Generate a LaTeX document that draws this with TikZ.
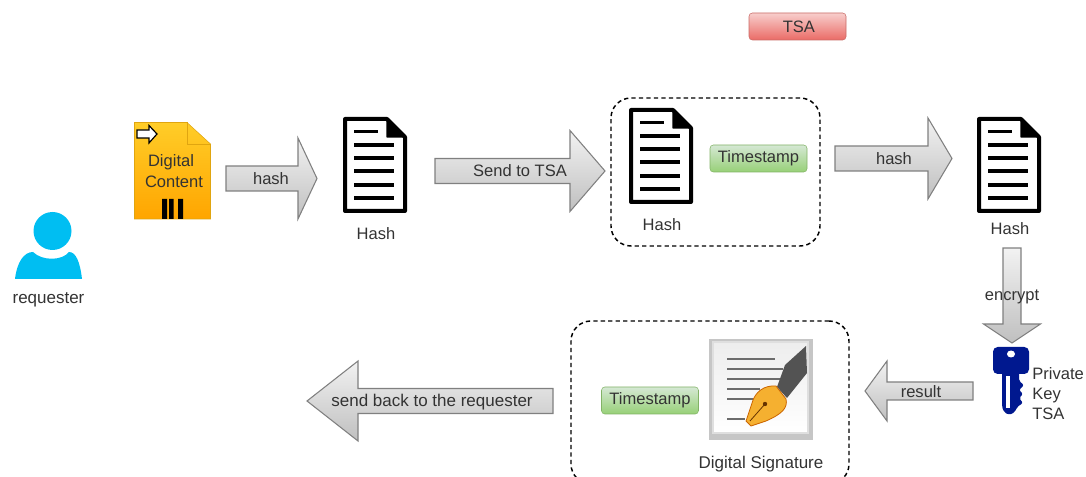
\documentclass[tikz,border=0pt]{standalone}
\usepackage{fontspec}
\setmainfont{Liberation Sans}
\usetikzlibrary{calc, positioning, shapes.geometric}

\definecolor{labelgray}{HTML}{333333}
\definecolor{usercyan}{HTML}{00BEF2}
\definecolor{keyblue}{HTML}{00188F}
\newcommand{\px}{0.75pt}

\tikzset{
  every node/.style={inner sep=0pt, outer sep=0pt, text=labelgray, font=\fontsize{12.4}{15}\selectfont, align=center},
  widelabel/.style={font=\fontsize{12.75}{15}\selectfont},
  iconbox/.style={minimum width=64*\px, minimum height=96*\px},
  dashbox/.style={draw=black, line width=1.1pt, dash pattern=on 3.2pt off 2.4pt, rounded corners=15pt},
  stampbox/.style={draw=stampedge, rounded corners=2.5pt, top color=stamptop, bottom color=stampbottom, minimum width=97*\px, minimum height=27*\px},
  tsabox/.style={draw=tsaedge, rounded corners=2.5pt, top color=tsatop, bottom color=tsabottom, minimum width=97*\px, minimum height=27*\px},
  % shaft half width, head half width, head length
  blockarrow/.style n args={3}{draw=gray, line width=0.8pt, line join=miter, top color=gray!10, bottom color=gray!50, to path={
    ($(\tikztostart)!#1*\px!90:(\tikztotarget)$)
    -- ($($(\tikztotarget)!#3*\px!(\tikztostart)$)!#1*\px!90:(\tikztotarget)$)
    -- ($($(\tikztotarget)!#3*\px!(\tikztostart)$)!#2*\px!90:(\tikztotarget)$)
    -- (\tikztotarget)
    -- ($($(\tikztotarget)!#3*\px!(\tikztostart)$)!#2*\px!-90:(\tikztotarget)$)
    -- ($($(\tikztotarget)!#3*\px!(\tikztostart)$)!#1*\px!-90:(\tikztotarget)$)
    -- ($(\tikztostart)!#1*\px!-90:(\tikztotarget)$)
    -- cycle}},
  hashdoc/.pic={
    \draw[line width=3pt, line join=round, fill=white] (-30,-46) -- (12,-46) -- (30,-28) -- (30,46) -- (-30,46) -- cycle;
    \fill[line join=round, draw=black, line width=1pt] (12,-46) -- (30,-28) -- (12,-28) -- cycle;
    \draw[line width=2.4pt] (-21,-33.5) -- (3,-33.5);
    \foreach \y in {-20,-7,6,20,33} {
      \draw[line width=2.4pt] (-21,\y) -- (19,\y);
    }
  }
}
\definecolor{stampedge}{HTML}{82B366}
\definecolor{stamptop}{HTML}{D5E8D4}
\definecolor{stampbottom}{HTML}{97D077}
\definecolor{tsaedge}{HTML}{C96B67}
\definecolor{tsatop}{HTML}{F8CECC}
\definecolor{tsabottom}{HTML}{EA6B66}
\definecolor{contentedge}{HTML}{E0A510}
\definecolor{contenttop}{HTML}{FFCD28}
\definecolor{contentbottom}{HTML}{FFA500}
\definecolor{nibfill}{HTML}{F5B030}

\begin{document}
\begin{tikzpicture}[x=0.75pt, y=-0.75pt]
\useasboundingbox (0,0) rectangle (1086,477);

% Nodes
\node (user) [minimum width=67*\px, minimum height=68*\px] at (48.5,245) {};
\node (content) [minimum width=77*\px, minimum height=97*\px] at (172.5,170.5) {};
\node (hashA) [iconbox] at (375,165) {};
\node (boxA) [dashbox, minimum width=209*\px, minimum height=148*\px] at (715.5,172) {};
\node (hashB) [iconbox] at (661,156) {};
\node (stampA) [stampbox] at (758.5,158.5) {\raisebox{-0.7pt}{Timestamp}};
\node (hashC) [iconbox] at (1009,165) {};
\node (tsa) [tsabox] at (797.5,26.5) {\hspace{2pt}TSA};
\node (key) [minimum width=36*\px, minimum height=67*\px] at (1011,380.5) {};
\node (boxB) [dashbox, minimum width=278*\px, minimum height=163*\px] at (710,402.5) {};
\node (stampB) [stampbox] at (650,400.5) {\raisebox{-0.7pt}{Timestamp}};
\node (sign) [minimum width=103*\px, minimum height=100*\px] at (760.5,388) {};
\coordinate (backEnd) at (307,401);

% Captions
\node[below=10.5pt of user, widelabel] {requester};
\node at (376,234) {Hash};
\node at (662,225) {Hash};
\node at (1010,229) {Hash};
\node[widelabel] at (761,464) {Digital Signature};
\node[right=2.5pt of key, yshift=-10pt, align=left] {Private\\Key\\TSA};

% Icons
\fill[usercyan] (user.south west) .. controls (17,262) and (24,252) .. (33,252) .. controls (42,261) and (62,261) .. (69,252) .. controls (76,252) and (80,262) .. (user.south east) -- cycle;
\fill[usercyan] (52.5,231) circle (19);

\draw[draw=contentedge, top color=contenttop, bottom color=contentbottom] (134.5,122.5) -- (187,122.5) -- (210.5,144) -- (210.5,219) -- (134.5,219) -- cycle;
\draw[draw=contentedge] (187,122.5) -- (187,144) -- (210.5,144);
\draw[fill=white, line width=0.9pt, line join=miter] (137,130) -- (149,130) -- (149,125.5) -- (157,134) -- (149,143) -- (149,138) -- (137,138) -- cycle;
\node at (171,162.5) {Digital};
\node at (174,181.5) {Content};
\fill[black] (162,199) rectangle (167,219) (169,199) rectangle (173.5,219) (178,199) rectangle (183,219);

\pic at (hashA) {hashdoc};
\pic at (hashB) {hashdoc};
\pic at (hashC) {hashdoc};

% key
\fill[keyblue, rounded corners=3.5pt] (993,347) rectangle (1029,374);
\fill[keyblue, rounded corners=1.5pt] (1002,370) -- (1019,370) -- (1019,381) -- (1024,385) -- (1019,390) -- (1023,394) -- (1019,398) -- (1023,403) -- (1017,407) -- (1015,412) -- (1009,415) -- (1004,412) -- (1002,407) -- cycle;
\fill[white] (1011,354) ellipse (4 and 3.5);
\fill[white] (1006,376) rectangle (1009.5,408);

% signature
\fill[gray!45] (709,339) rectangle (813,440);
\draw[draw=gray!25, line width=1pt, top color=gray!14, bottom color=white] (713,342) rectangle (808,433);
\foreach \y/\xend in {359/775, 369/783, 379/780, 389/760, 399/755, 419/745} {
  \draw[gray!85!black, line width=1.8pt] (727,\y) -- (\xend,\y);
}
\fill[gray!65!black] (806,346) -- (785,365) -- (777,387) -- (787,398) -- (807,373) -- cycle;
\draw[draw=orange!80!black, fill=nibfill, line width=0.6pt, line join=round] (746,421) -- (752,403) .. controls (755,392) and (764,385) .. (776,386) -- (786,399) .. controls (788,408) and (782,414) .. (766,421) -- (751,426) -- cycle;
\draw[orange!40!black, line width=0.6pt] (750,421) -- (765,404);
\fill[orange!40!black] (765,404) circle (2.2);

% Edges
\draw[blockarrow={12.5}{40.5}{19}] ([shift={(15,8)}]content.east) to ([shift={(-26,13.5)}]hashA.west);
\draw[blockarrow={12.5}{40.5}{35}] ([shift={(28,6)}]hashA.east) to ([shift={(-6,-1)}]boxA.west);
\draw[blockarrow={12.5}{40.5}{24}] ([shift={(15,-13.5)}]boxA.east) to ([shift={(-25,-6.5)}]hashC.west);
\draw[blockarrow={9}{28.5}{19}] ([shift={(3,35)}]hashC.south) to ([shift={(1,-4)}]key.north);
\draw[blockarrow={9}{30}{22}] ([shift={(-20,10.5)}]key.west) to ([shift={(16,-11.5)}]boxB.east);
\draw[blockarrow={12.5}{40}{51}] ([shift={(-18,-1.5)}]boxB.west) to (backEnd);

% Edge labels
\node at (271,179) {hash};
\node at (520,171) {Send to TSA};
\node at (894,159) {hash};
\node at (1012,297) {encrypt};
\node at (921,392) {result};
\node[widelabel] at (432,402) {send back to the requester};
\end{tikzpicture}
\end{document}
